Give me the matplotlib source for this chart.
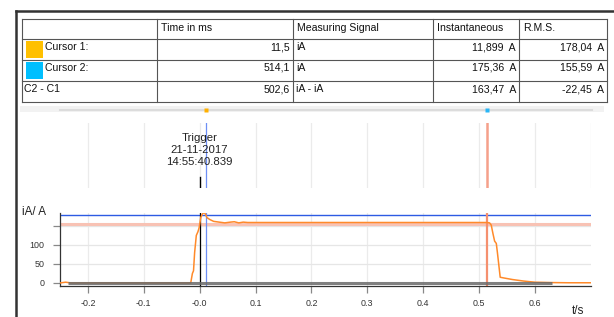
import matplotlib
matplotlib.use("Agg")
import matplotlib.pyplot as plt
from matplotlib.patches import Rectangle
import numpy as np

plt.rcParams['font.family'] = ['Liberation Sans', 'DejaVu Sans']

W, H = 614, 317
DPI = 100

# ---- table data ----
header = ["", "Time in ms", "Measuring Signal", "Instantaneous", "R.M.S."]
row_labels = ["Cursor 1:", "Cursor 2:", "C2 - C1"]
row_colors = ["#FFC000", "#00BFFF", None]
times_ms = ["11,5", "514,1", "502,6"]
signals = ["iA", "iA", "iA - iA"]
instantaneous = ["11,899  A", "175,36  A", "163,47  A"]
rms = ["178,04  A", "155,59  A", "-22,45  A"]

# ---- chart data ----
t = [-0.25, -0.245, -0.24, -0.235, -0.23, -0.016, -0.013, -0.011, -0.009, -0.006,
     -0.003, -0.001, 0.002, 0.005, 0.008, 0.010, 0.013, 0.018, 0.025, 0.035,
     0.045, 0.055, 0.062, 0.070, 0.078, 0.086, 0.2, 0.3, 0.4, 0.5, 0.514,
     0.519, 0.522, 0.525, 0.528, 0.531, 0.533, 0.538, 0.545, 0.56, 0.58,
     0.60, 0.63, 0.66, 0.70]
iA = [0, 1, 2, 1, 0, 0, 25, 32, 80, 125, 135, 145, 172, 182, 185, 182, 172, 167, 162, 160,
      158, 160, 161, 158, 160, 159, 159, 159, 159, 159, 159,
      158, 152, 130, 110, 104, 80, 15, 13, 9, 5, 2, 1, 0.5, 0.5]
ref_t = [-0.235, 0.63]
ref_v = [0, 0]
cursor1_t = 0.0115
cursor2_t = 0.5141
trigger_t = 0.0
rms1 = 178.04
rms2 = 155.59
xticks = [-0.2, -0.1, 0.0, 0.1, 0.2, 0.3, 0.4, 0.5, 0.6]
xticklabels = ["-0.2", "-0.1", "-0.0", "0.1", "0.2", "0.3", "0.4", "0.5", "0.6"]
yticks = [0, 50, 100, 150]
yticklabels = ["0", "50", "100", ""]
trigger_text = "Trigger\n21-11-2017\n14:55:40.839"

fig = plt.figure(figsize=(W / DPI, H / DPI), dpi=DPI)

def px_axes(x0, y0, x1, y1, **kw):
    return fig.add_axes([x0 / W, 1 - y1 / H, (x1 - x0) / W, (y1 - y0) / H], **kw)

# overlay for frame + table
ov = px_axes(0, 0, W, H)
ov.set_xlim(0, W)
ov.set_ylim(H, 0)
ov.axis("off")

# outer frame
ov.plot([16, 16], [10.5, H], color="#333333", lw=1.8)
ov.plot([16, W], [10.5, 10.5], color="#333333", lw=1.8)

# table grid
col_x = [21.5, 157, 293, 433, 519, 607]
row_y = [19.3, 39, 60, 81, 102]
for x in col_x:
    ov.plot([x, x], [row_y[0], row_y[-1]], color="#555555", lw=0.8)
for y in row_y:
    ov.plot([col_x[0], col_x[-1]], [y, y], color="#555555", lw=0.8)

fs = 7.6
for j, h in enumerate(header):
    if h:
        ov.text(col_x[j] + 4, (row_y[0] + row_y[1]) / 2 - 1.5, h, fontsize=fs,
                ha="left", va="center", color="#111111")

for i in range(3):
    yc = (row_y[i + 1] + row_y[i + 2]) / 2 - 2.5
    if row_colors[i]:
        ov.add_patch(Rectangle((26, row_y[i + 1] + 2), 16.5, 16.5, color=row_colors[i], lw=0))
        ov.text(45, yc, row_labels[i], fontsize=fs, ha="left", va="center", color="#111111")
    else:
        ov.text(24, yc, row_labels[i], fontsize=fs, ha="left", va="center", color="#111111")
    ov.text(col_x[2] - 3, yc, times_ms[i], fontsize=fs, ha="right", va="center", color="#111111")
    ov.text(col_x[2] + 3, yc, signals[i], fontsize=fs, ha="left", va="center", color="#111111")
    ov.text(col_x[4] - 3, yc, instantaneous[i], fontsize=fs, ha="right", va="center", color="#111111")
    ov.text(col_x[5] - 3, yc, rms[i], fontsize=fs, ha="right", va="center", color="#111111")

# slider strip
ov.add_patch(Rectangle((20, 105.5), 584, 6.5, color="#f2f2f2", lw=0))
ov.plot([60, 592], [109.5, 109.5], color="#dcdcdc", lw=1.5)

AX_L, AX_R = 60, 590.7
XLIM = (-0.25, 0.7)

# slider markers
sl = px_axes(AX_L, 106, AX_R, 113)
sl.set_xlim(*XLIM)
sl.set_ylim(0, 1)
sl.axis("off")
sl.plot([cursor1_t], [0.5], marker="s", ms=2.5, color="#FFB000", mec="none")
sl.plot([cursor2_t], [0.5], marker="s", ms=2.5, color="#29B6F6", mec="none")

# trigger strip
st = px_axes(AX_L, 123, AX_R, 188)
st.set_xlim(*XLIM)
st.set_ylim(0, 1)
st.axis("off")
for xt in xticks + [0.7]:
    st.axvline(xt, color="#ebebeb", lw=0.9)
st.axvline(cursor1_t, color="#6d8ff5", lw=0.9)
st.axvline(cursor2_t, color="#f5a08a", lw=1.8)
st.plot([trigger_t, trigger_t], [0, 0.17], color="black", lw=1)
st.text(trigger_t, 0.585, trigger_text, ha="center", va="center", fontsize=8.2,
        linespacing=1.22, color="#222222")

# main chart
ax = px_axes(AX_L, 213, AX_R, 286)
ax.set_xlim(*XLIM)
ax.set_ylim(-8, 184)
for s in ["top", "right"]:
    ax.spines[s].set_visible(False)
ax.spines["left"].set_color("#333333")
ax.spines["bottom"].set_color("#333333")
ax.spines["left"].set_linewidth(0.9)
ax.spines["bottom"].set_linewidth(0.9)
ax.set_xticks(xticks)
ax.set_xticklabels(xticklabels, fontsize=6.4, color="#333333")
ax.set_yticks(yticks)
ax.set_yticklabels(yticklabels, fontsize=6.4, color="#333333")
ax.tick_params(axis="x", length=5, width=0.9, color="#888888", pad=4)
ax.tick_params(axis="y", length=5, width=0.9, color="#888888", pad=6)
for xt in xticks:
    ax.axvline(xt, color="#ebebeb", lw=0.9, zorder=0)
for yt in yticks[1:]:
    ax.axhline(yt, color="#e6e6e6", lw=0.9, zorder=0)
ax.axhline(rms2, color="#f8c2b4", lw=2.2, zorder=1)
ax.axhline(rms1, color="#2d5be3", lw=1.0, zorder=2)
ax.axvline(trigger_t, color="black", lw=0.9, zorder=2)
ax.axvline(cursor1_t, color="#6d8ff5", lw=0.9, zorder=2)
ax.axvline(cursor2_t, color="#f5906f", lw=1.6, zorder=2)
ax.plot(t, iA, color="#ff8a2a", lw=1.1, zorder=3)
ax.plot(ref_t, ref_v, color="#6a6a6a", lw=2.2, alpha=0.85, zorder=4, solid_capstyle="butt")

fig.text(22 / W, 1 - 212 / H, "iA/ A", fontsize=8.4, ha="left", va="center", color="#222222")
fig.text(578 / W, 1 - 311 / H, "t/s", fontsize=8.4, ha="center", va="center", color="#222222")

fig.savefig("out.png", dpi=DPI)
